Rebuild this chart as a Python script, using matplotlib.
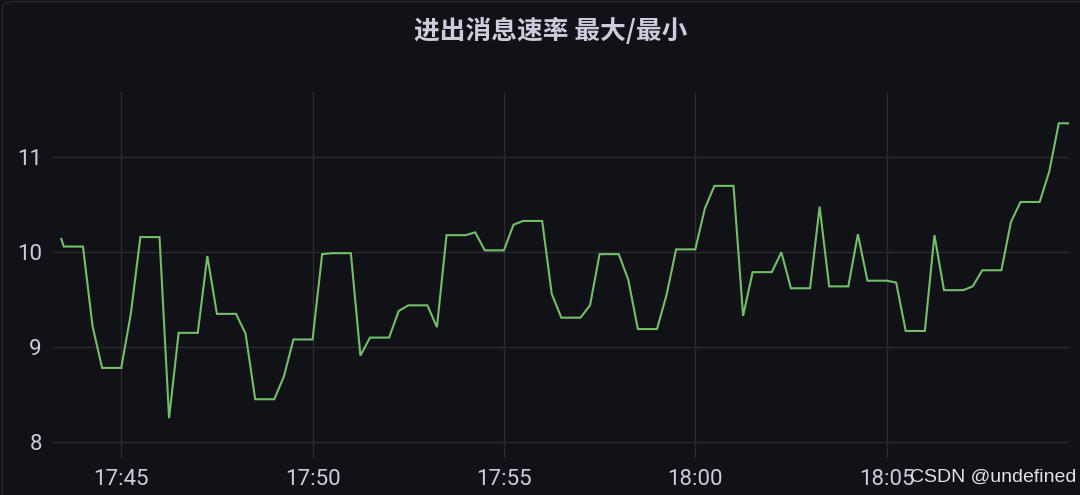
import numpy as np
import pandas as pd
import matplotlib
matplotlib.use("Agg")
import matplotlib.pyplot as plt
import matplotlib.dates as mdates
from matplotlib.patches import FancyBboxPatch

# ------------------
# Data
# ------------------
TITLE = "进出消息速率 最大/最小"
WATERMARK = "CSDN @undefined"

first_time = "2024-01-01 17:43:26"
first_value = 10.14
start_time = "2024-01-01 17:43:30"   # regular 15s samples from here on
rate_values = [
    10.06, 10.06, 10.06, 9.22, 8.78, 8.78, 8.78, 9.35, 10.16, 10.16,
    10.16, 8.25, 9.15, 9.15, 9.15, 9.96, 9.35, 9.35, 9.35, 9.14,
    8.45, 8.45, 8.45, 8.69, 9.08, 9.08, 9.08, 9.98, 9.99, 9.99,
    9.99, 8.91, 9.10, 9.10, 9.10, 9.38, 9.44, 9.44, 9.44, 9.21,
    10.18, 10.18, 10.18, 10.21, 10.02, 10.02, 10.02, 10.29, 10.33, 10.33,
    10.33, 9.56, 9.31, 9.31, 9.31, 9.44, 9.98, 9.98, 9.98, 9.71,
    9.19, 9.19, 9.19, 9.55, 10.03, 10.03, 10.03, 10.46, 10.70, 10.70,
    10.70, 9.33, 9.79, 9.79, 9.79, 10.00, 9.62, 9.62, 9.62, 10.48,
    9.64, 9.64, 9.64, 10.19, 9.70, 9.70, 9.70, 9.68, 9.17, 9.17,
    9.17, 10.18, 9.60, 9.60, 9.60, 9.64, 9.81, 9.81, 9.81, 10.32,
    10.53, 10.53, 10.53, 10.85, 11.36, 11.36,
]
y_ticks = [8, 9, 10, 11]
x_ticks = ["17:45", "17:50", "17:55", "18:00", "18:05"]
x_range = ("2024-01-01 17:43:13", "2024-01-01 18:09:46")
y_range = (7.83, 11.69)

# ------------------
# Style
# ------------------
BG = "#111217"
TEXT = "#ccccdc"
GRID = "#2a2b31"
LINE = "#73bf69"

plt.rcParams["font.family"] = ["Roboto", "Noto Sans CJK SC", "DejaVu Sans"]

times = pd.date_range(start_time, periods=len(rate_values), freq="15s")
times = pd.DatetimeIndex([pd.Timestamp(first_time)]).append(times)
values = [first_value] + rate_values

fig = plt.figure(figsize=(10.8, 4.95), dpi=100, facecolor=BG)

# panel border
border = FancyBboxPatch((2.5 / 1080, -0.1), 1.2, 1.1 - 1.5 / 495,
                        boxstyle="round,pad=0,rounding_size=0.012",
                        transform=fig.transFigure, facecolor="none",
                        edgecolor="#23252b", linewidth=1.2)
fig.patches.append(border)

ax = fig.add_axes([53 / 1080, 37 / 495, (1069 - 53) / 1080, (458 - 92) / 495])
ax.set_facecolor(BG)

ax.plot(times, values, color=LINE, linewidth=1.5, solid_joinstyle="miter")

ax.set_xlim(pd.Timestamp(x_range[0]), pd.Timestamp(x_range[1]))
ax.set_ylim(*y_range)

ax.set_yticks(y_ticks)
ax.set_yticklabels([str(v) for v in y_ticks])
ax.set_xticks([pd.Timestamp("2024-01-01 " + t) for t in x_ticks])
ax.set_xticklabels(x_ticks)

ax.grid(True, color=GRID, linewidth=1.0)
ax.set_axisbelow(True)
for s in ax.spines.values():
    s.set_visible(False)
ax.tick_params(axis="both", length=0, colors=TEXT, labelsize=16)
ax.tick_params(axis="y", pad=8)
ax.tick_params(axis="x", pad=8)

fig.text(551 / 1080, 1 - 31 / 495, TITLE, ha="center", va="center",
         fontsize=18.5, fontweight="bold", color=TEXT,
         family=["Noto Sans CJK SC", "DejaVu Sans"])

fig.text(1076 / 1080, 1 - 477 / 495, WATERMARK, ha="right", va="center",
         fontsize=14, color="#e2e2e6", family=["Liberation Sans", "DejaVu Sans"])

fig.savefig("out.png", dpi=100, facecolor=BG)
